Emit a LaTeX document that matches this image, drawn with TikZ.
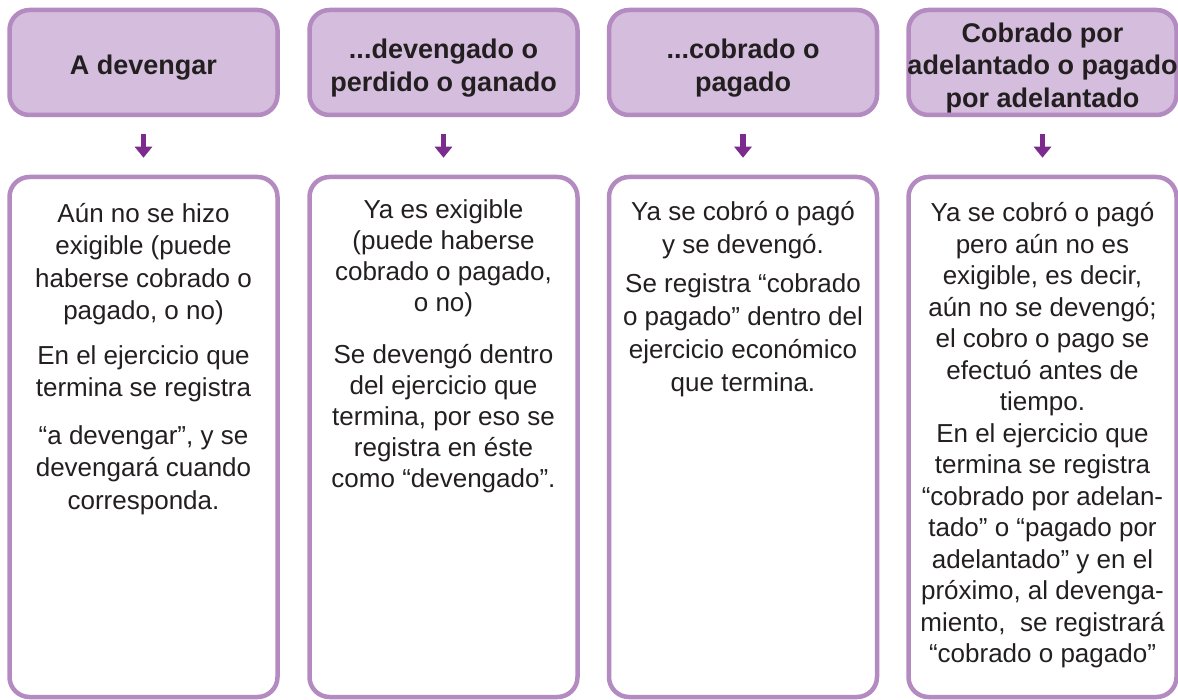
\documentclass[tikz,border=0pt]{standalone}
\usepackage{fontspec}
\setmainfont{Liberation Sans}
\usetikzlibrary{arrows.meta}
\definecolor{lila}{HTML}{D4BDDD}
\definecolor{lilaborde}{HTML}{B38BC0}
\definecolor{morado}{HTML}{7B2A8E}
\definecolor{tinta}{HTML}{231F20}
\begin{document}
\begin{tikzpicture}[x=1pt,y=-1pt,
    cabeza/.style={draw=lilaborde, fill=lila, line width=4.5pt, rounded corners=20pt,
        minimum width=268pt, minimum height=105pt, inner sep=0pt},
    titulo/.style={align=center, inner sep=0pt, text=tinta,
        font=\fontsize{27}{32.5}\selectfont\bfseries},
    caja/.style={draw=lilaborde, line width=4.5pt, rounded corners=20pt,
        minimum width=268pt, minimum height=520pt, inner sep=0pt},
    texto/.style={anchor=north, align=center, inner sep=0pt, text=tinta},
    flecha/.style={-{Triangle[width=17pt,length=11pt]}, line width=5.5pt,
        draw=morado, shorten <=17pt, shorten >=17pt}]
    \useasboundingbox (0,0) rectangle (1178,700);
    % cabeceras
    \foreach \x/\i/\rotulo in {143.5/1/{A devengar},
        443.5/2/{...devengado o\\perdido o ganado},
        743/3/{...cobrado o\\pagado},
        1042.5/4/{Cobrado por\\adelantado o pagado\\por adelantado}} {
        \node[cabeza] (h\i) at (\x,62.5) {};
        \node[titulo] (c\i) at ([yshift=-5.5pt]h\i.center) {\rotulo};
        \node[caja] (b\i) at (\x,437) {};
    }
    \foreach \i in {1,...,4}
        \draw[flecha] (h\i) -- (b\i);
    % textos
    \node[texto, font=\fontsize{26}{32.5}\selectfont] (t1) at (143.5,199.5)
        {\strut Aún no se hizo\\exigible (puede\\haberse cobrado o\\pagado, o no)\\[12pt]
         En el ejercicio que\\termina se registra\\[15pt]
         “a devengar”, y se\\devengará cuando\\corresponda.};
    \node[texto, font=\fontsize{26}{31}\selectfont] (t2) at (443.5,197)
        {\strut Ya es exigible\\(puede haberse\\cobrado o pagado,\\o no)\\[21pt]
         Se devengó dentro\\del ejercicio que\\termina, por eso se\\registra en éste\\como “devengado”.};
    \node[texto, font=\fontsize{26}{33}\selectfont] (t3) at (743,197.5)
        {\strut Ya se cobró o pagó\\y se devengó.\\[6pt]
         Se registra “cobrado\\o pagado” dentro del\\ejercicio económico\\que termina.};
    \node[texto, font=\fontsize{26}{31.5}\selectfont] (t4) at (1042.5,199.5)
        {\strut Ya se cobró o pagó\\pero aún no es\\exigible, es decir,\\aún no se devengó;\\el cobro o pago se\\efectuó antes de\\tiempo.\\
         En el ejercicio que\\termina se registra\\“cobrado por adelan-\\tado” o “pagado por\\adelantado” y en el\\próximo, al devenga-\\miento,\ \ se registrará\\“cobrado o pagado”};
\end{tikzpicture}
\end{document}
